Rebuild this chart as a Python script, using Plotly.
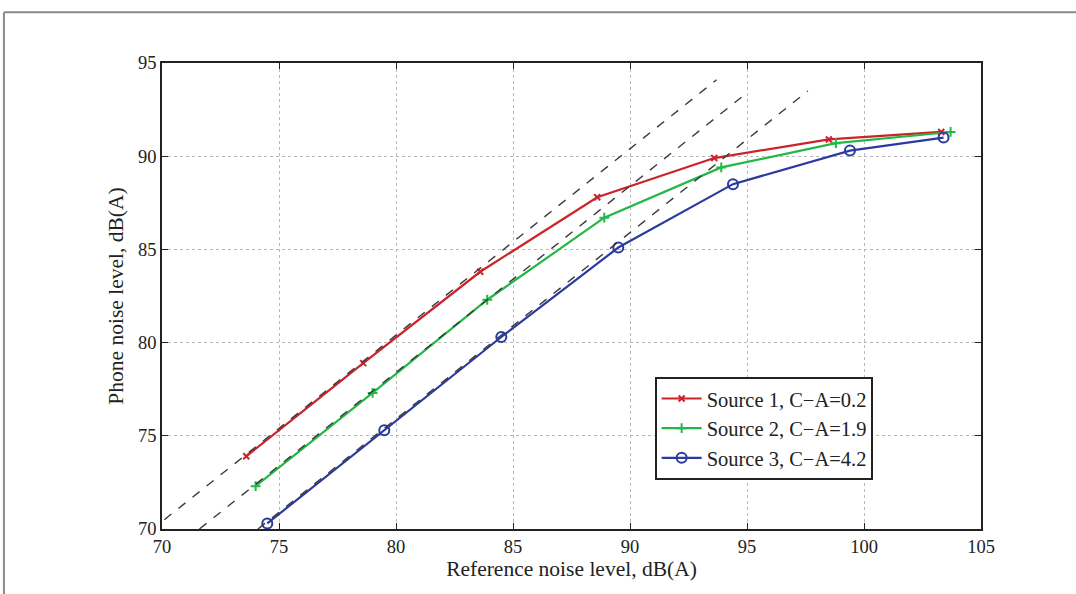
import plotly.graph_objects as go

# Data
src1_x = [73.6, 78.6, 83.6, 88.6, 93.6, 98.5, 103.3]
src1_y = [73.9, 78.9, 83.8, 87.8, 89.9, 90.9, 91.3]
src2_x = [74.0, 79.0, 83.9, 88.9, 93.9, 98.8, 103.7]
src2_y = [72.3, 77.3, 82.3, 86.7, 89.4, 90.7, 91.3]
src3_x = [74.5, 79.5, 84.5, 89.5, 94.4, 99.4, 103.4]
src3_y = [70.3, 75.3, 80.3, 85.1, 88.5, 90.3, 91.0]

# Dashed reference lines (slope 1): endpoints in data units
ref1_x = [70.1, 93.7]
ref1_y = [70.5, 94.1]
ref2_x = [71.6, 95.0]
ref2_y = [70.0, 93.4]
ref3_x = [74.1, 97.6]
ref3_y = [70.0, 93.5]

names = ["Source 1, C\u2212A=0.2", "Source 2, C\u2212A=1.9", "Source 3, C\u2212A=4.2"]
x_ticks = [70, 75, 80, 85, 90, 95, 100, 105]
y_ticks = [70, 75, 80, 85, 90, 95]

FONT = "Liberation Serif, Times New Roman, serif"

fig = go.Figure()

fig.add_trace(go.Scatter(x=src1_x, y=src1_y, mode="lines+markers", name=names[0],
                         line=dict(color="#cc2229", width=2.2),
                         marker=dict(symbol="x-thin", size=6, line=dict(color="#cc2229", width=2))))
fig.add_trace(go.Scatter(x=src2_x, y=src2_y, mode="lines+markers", name=names[1],
                         line=dict(color="#22b845", width=2.2),
                         marker=dict(symbol="cross-thin", size=7, line=dict(color="#22b845", width=2))))
fig.add_trace(go.Scatter(x=src3_x, y=src3_y, mode="lines+markers", name=names[2],
                         line=dict(color="#2b3a9e", width=2.2),
                         marker=dict(symbol="circle-open", size=10, color="#2b3a9e",
                                     line=dict(color="#2b3a9e", width=2))))

for rx, ry in [(ref1_x, ref1_y), (ref2_x, ref2_y), (ref3_x, ref3_y)]:
    fig.add_trace(go.Scatter(x=rx, y=ry, mode="lines", showlegend=False, hoverinfo="skip",
                             line=dict(color="#3a3a3a", width=1.4, dash="dash")))

axis_common = dict(showline=True, linecolor="#222", linewidth=1.6, mirror="allticks",
                   ticks="inside", ticklen=6, tickwidth=1.4, tickcolor="#222",
                   showgrid=True, gridcolor="#b8b8b8", griddash="dot", gridwidth=1,
                   zeroline=False, tickfont=dict(family=FONT, size=18.5, color="#222"))

fig.update_xaxes(range=[70, 105], tickvals=x_ticks, **axis_common,
                 title=dict(text="Reference noise level, dB(A)", standoff=2,
                            font=dict(family=FONT, size=21.5, color="#222")))
fig.update_yaxes(range=[70, 95], tickvals=y_ticks, **axis_common,
                 title=dict(text="Phone noise level, dB(A)", standoff=8,
                            font=dict(family=FONT, size=21.5, color="#222")))

# Page frame (grey border at top and left)
fig.add_shape(type="line", xref="paper", yref="paper", x0=-0.193, x1=1.2, y0=1.109, y1=1.109,
              line=dict(color="#8a8a8a", width=2))
fig.add_shape(type="line", xref="paper", yref="paper", x0=-0.193, x1=-0.193, y0=1.109, y1=-0.2,
              line=dict(color="#8a8a8a", width=2))

fig.update_layout(
    width=1076, height=594,
    margin=dict(l=162, r=95, t=63, b=65),
    paper_bgcolor="white", plot_bgcolor="white",
    font=dict(family=FONT, color="#222"),
    legend=dict(x=0.602, y=0.326, xanchor="left", yanchor="top",
                bgcolor="white", bordercolor="#222", borderwidth=1.6,
                font=dict(family=FONT, size=20.5, color="#222"),
                tracegroupgap=0, itemwidth=40),
    showlegend=True,
)

fig.write_html("out.html")
